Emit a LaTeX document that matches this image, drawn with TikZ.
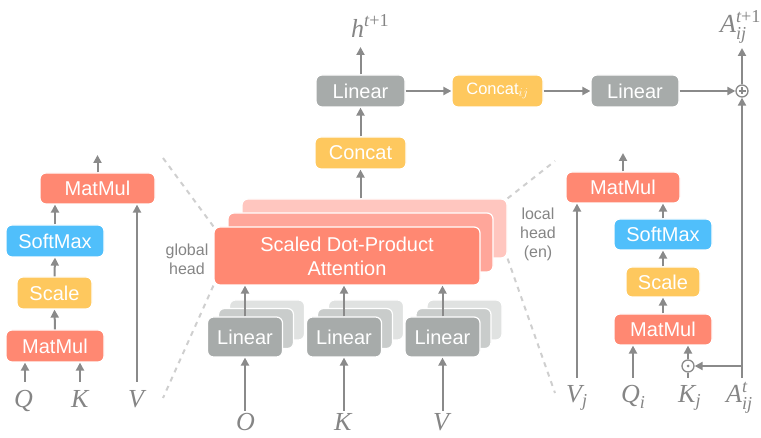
\documentclass[tikz,border=0pt]{standalone}
\usepackage{amsmath}
\usepackage{fontspec}
\setmainfont{Liberation Sans}
\newfontfamily\tms{Liberation Serif}
\newcommand\vi[1]{\text{\tms\itshape #1}}
\newcommand\vr[1]{\text{\tms #1}}
\usetikzlibrary{arrows.meta}
\definecolor{sal}{HTML}{FF8872}
\definecolor{sal2}{HTML}{FFA69A}
\definecolor{sal3}{HTML}{FFC6BF}
\definecolor{sky}{HTML}{50BFFB}
\definecolor{yel}{HTML}{FEC85E}
\definecolor{gry}{HTML}{A7ABAA}
\definecolor{gry2}{HTML}{C9CCCB}
\definecolor{gry3}{HTML}{E0E2E1}
\definecolor{arrg}{HTML}{8A8A8A}
\definecolor{txtg}{HTML}{858585}
\definecolor{dshg}{HTML}{CFCFCF}
\tikzset{
  box/.style={rectangle, rounded corners=6pt, draw=white, line width=1.2pt, text=white,
    inner sep=0pt, font=\fontsize{20}{24}\selectfont, align=center},
  arr/.style={draw=arrg, line width=2pt, -{Triangle[length=8pt,width=8pt]}},
  ln/.style={draw=arrg, line width=2pt},
  lbl/.style={text=txtg, inner sep=0pt, anchor=base west, font=\fontsize{26}{28}\selectfont},
  note/.style={text=txtg, inner sep=0pt, align=center, font=\fontsize{16}{19}\selectfont},
  dsh/.style={draw=dshg, line width=2pt, dash pattern=on 5pt off 5pt},
  opcirc/.style={circle, draw=arrg, line width=1.3pt, minimum size=12pt, inner sep=0pt, fill=white},
}
\begin{document}
\begin{tikzpicture}[x=1pt,y=-1pt]
\useasboundingbox (0,0) rectangle (761,438);

% ---------- left panel ----------
\node[box, fill=sal, minimum width=115, minimum height=31] (lmm2) at (97.5,188.5) {MatMul};
\node[box, fill=sky, minimum width=98, minimum height=32] (lsm) at (55,241) {SoftMax};
\node[box, fill=yel, minimum width=75, minimum height=32] (lsc) at (54.5,293) {Scale};
\node[box, fill=sal, minimum width=98, minimum height=32] (lmm1) at (55,346) {MatMul};
\node[lbl] (lQ) at (14,408) {$\vi{Q}$};
\node[lbl] (lK) at (71,408) {$\vi{K}$};
\node[lbl] (lV) at (128,408) {$\vi{V}$};
\coordinate (lQs) at (25,382);
\coordinate (lKs) at (80,382);
\coordinate (lVs) at (137,382);
\coordinate (lout) at (97.5,155);
\draw[arr] (lQs) -- (lQs |- lmm1.south);
\draw[arr] (lKs) -- (lKs |- lmm1.south);
\draw[arr] (lVs) -- (lVs |- lmm2.south);
\draw[arr] (lmm1.north) -- (lsc.south);
\draw[arr] (lsc.north) -- (lsm.south);
\draw[arr] (lsm.north) -- (lsm.north |- lmm2.south);
\draw[arr] (lmm2.north) -- (lout);

% ---------- attention stack ----------
\node[box, fill=sal3, minimum width=265, minimum height=59] (att3) at (374.5,228.5) {};
\node[box, fill=sal2, minimum width=265, minimum height=59] (att2) at (360.5,242.5) {};
\node[box, fill=sal, minimum width=266, minimum height=58] (att1) at (347,256) {Scaled Dot-Product\\Attention};
\node[note] (glob) at (187,259) {global\\head};
\node[note] (loc) at (538,234) {local\\head\\(en)};

% dashed guide lines
\coordinate (dl1) at (163,158);
\coordinate (dl2) at (163,398);
\coordinate (dr1) at (555,161);
\coordinate (dr2) at (555,393);
\draw[dsh] (dl1) -- (att1.north west);
\draw[dsh] (att1.south west) -- (dl2);
\draw[dsh] (att3.north east) -- (dr1);
\draw[dsh] (att3.south east) -- (dr2);

% ---------- linear stacks ----------
\foreach \n/\x in {a/245, b/344, c/442.5}{
  \node[box, fill=gry3, minimum width=75, minimum height=40] (\n3) at (\x+22,320) {};
  \node[box, fill=gry2, minimum width=75, minimum height=40] (\n2) at (\x+11,328.5) {};
  \node[box, fill=gry, minimum width=75, minimum height=40] (\n1) at (\x,337) {Linear};
  \coordinate (\n s) at (\x,411);
  \draw[arr] (\n s) -- (\n1.south);
  \draw[arr] (\n1.north) -- (\n1.north |- att1.south);
}
\node[lbl] (bO) at (236,431) {$\vi{O}$};
\node[lbl] (bK) at (334,431) {$\vi{K}$};
\node[lbl] (bV) at (433,431) {$\vi{V}$};

% ---------- top ----------
\node[box, fill=yel, minimum width=91, minimum height=32] (cat) at (360.5,153) {Concat};
\node[box, fill=gry, minimum width=89, minimum height=32] (lin1) at (360.5,91) {Linear};
\node[box, fill=yel, minimum width=91, minimum height=32, font=\fontsize{16.5}{20}\selectfont] (cat2) at (497.5,91) {Concat$_{ij}$};
\node[box, fill=gry, minimum width=88, minimum height=32] (lin2) at (635,91) {Linear};
\node[opcirc] (opl) at (742,91) {};
\draw[arrg, line width=1.1pt] (opl.center) ++(-3.5,0) -- ++(7,0);
\draw[arrg, line width=1.1pt] (opl.center) ++(0,-3.5) -- ++(0,7);
\node[lbl] (hout) at (351,38) {$\vi{h}^{\vi{t}\vr{+1}}$};
\node[lbl] (aout) at (720,33) {$\vi{A}_{\vi{ij}}^{\vi{t}\vr{+1}}$};
\coordinate (htip) at (360.5,47);
\coordinate (atip) at (742,48);
\draw[arr] (cat.south |- att3.north) -- (cat.south);
\draw[arr] (cat.north) -- (lin1.south);
\draw[arr] (lin1.north) -- (htip);
\draw[arr] (lin1.east) -- (cat2.west);
\draw[arr] (cat2.east) -- (lin2.west);
\draw[arr] (lin2.east) -- (opl.west);
\draw[arr] (opl.north) -- (atip);

% ---------- right panel ----------
\node[box, fill=sal, minimum width=114, minimum height=31] (rmm2) at (623,187.5) {MatMul};
\node[box, fill=sky, minimum width=98, minimum height=31] (rsm) at (663,234.5) {SoftMax};
\node[box, fill=yel, minimum width=74, minimum height=30] (rsc) at (663,282) {Scale};
\node[box, fill=sal, minimum width=98, minimum height=31] (rmm1) at (663,329.5) {MatMul};
\node[opcirc] (odt) at (688,366) {};
\fill[arrg] (odt.center) circle (1.5pt);
\node[lbl] (rV) at (566,403) {$\vi{V}_{\vi{j}}$};
\node[lbl] (rQ) at (621,403) {$\vi{Q}_{\vi{i}}$};
\node[lbl] (rK) at (678,403) {$\vi{K}_{\vi{j}}$};
\node[lbl] (rA) at (726,403) {$\vi{A}_{\vi{ij}}^{\vi{t}}$};
\coordinate (rVs) at (577,378);
\coordinate (rQs) at (633,378);
\coordinate (rKs) at (688,378);
\coordinate (rAs) at (742,378);
\coordinate (rout) at (623,153);
\draw[arr] (rVs) -- (rVs |- rmm2.south);
\draw[arr] (rQs) -- (rQs |- rmm1.south);
\draw[ln] (rKs) -- (odt.south);
\draw[arr] (odt.north) -- (odt.north |- rmm1.south);
\draw[arr] (rmm1.north) -- (rsc.south);
\draw[arr] (rsc.north) -- (rsm.south);
\draw[arr] (rsm.north) -- (rsm.north |- rmm2.south);
\draw[arr] (rmm2.north) -- (rout);
\draw[arr] (rAs) -- (opl.south);
\draw[arr] (rAs |- odt.east) -- (odt.east);
\end{tikzpicture}
\end{document}
